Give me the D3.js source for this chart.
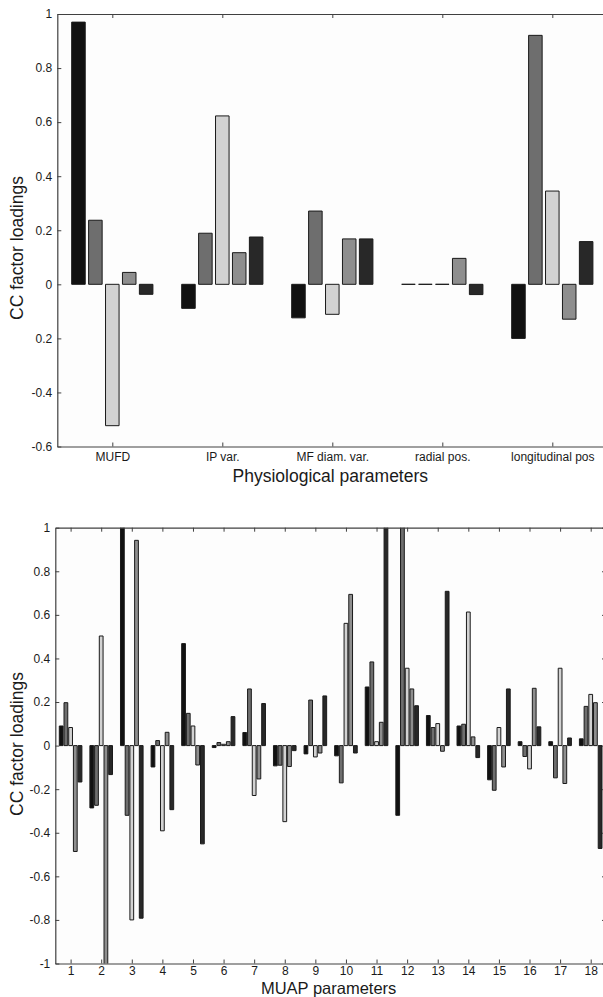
<!DOCTYPE html>
<html>
<head>
<meta charset="utf-8">
<script src="https://cdn.jsdelivr.net/npm/d3@7"></script>
<style>
  html, body { margin: 0; padding: 0; background: #ffffff; }
  svg { display: block; }
  text { font-family: "Liberation Sans", Arial, sans-serif; fill: #1a1a1a; }
</style>
</head>
<body>
<svg id="chart" width="603" height="997"></svg>
<script>
// ---------- Top panel data ----------
const topCategories = ["MUFD", "IP var.", "MF diam. var.", "radial pos.", "longitudinal pos"];
const topS1 = [0.97, -0.089, -0.124, 0, -0.20];
const topS2 = [0.237, 0.189, 0.271, 0, 0.921];
const topS3 = [-0.523, 0.623, -0.111, 0, 0.345];
const topS4 = [0.044, 0.117, 0.168, 0.096, -0.129];
const topS5 = [-0.037, 0.175, 0.168, -0.038, 0.158];
const topYTicks = [-0.6, -0.4, -0.2, 0, 0.2, 0.4, 0.6, 0.8, 1];
const topYTickLabels = ["-0.6", "-0.4", "0.2", "0", "0.2", "0.4", "0.6", "0.8", "1"];

// ---------- Bottom panel data ----------
const bottomCategories = ["1","2","3","4","5","6","7","8","9","10","11","12","13","14","15","16","17","18"];
const botS1 = [0.09, -0.286, 1.02, -0.098, 0.468, -0.009, 0.06, -0.093, -0.038, -0.047, 0.269, -0.32, 0.138, 0.09, -0.157, 0.018, 0.018, 0.031];
const botS2 = [0.197, -0.274, -0.32, 0.023, 0.148, 0.014, 0.26, -0.09, 0.209, -0.171, 0.384, 1.02, 0.083, 0.098, -0.205, -0.05, -0.148, 0.18];
const botS3 = [0.083, 0.503, -0.80, -0.391, 0.09, 0.006, -0.229, -0.349, -0.052, 0.561, 0.018, 0.355, 0.101, 0.613, 0.083, -0.107, 0.355, 0.235];
const botS4 = [-0.486, -1.02, 0.942, 0.061, -0.089, 0.018, -0.153, -0.096, -0.034, 0.694, 0.107, 0.26, -0.026, 0.04, -0.098, 0.263, -0.174, 0.197];
const botS5 = [-0.167, -0.133, -0.792, -0.294, -0.451, 0.133, 0.193, -0.023, 0.228, -0.034, 1.02, 0.183, 0.708, -0.055, 0.26, 0.086, 0.035, -0.472];
const bottomYTicks = [-1, -0.8, -0.6, -0.4, -0.2, 0, 0.2, 0.4, 0.6, 0.8, 1];
const bottomYTickLabels = ["-1", "-0.8", "-0.6", "-0.4", "-0.2", "0", "0.2", "0.4", "0.6", "0.8", "1"];

const seriesColors = ["#111111", "#6e6e6e", "#d2d2d2", "#8e8e8e", "#282828"];

const svg = d3.select("#chart");

function drawPanel(cfg) {
  const { id, cats, series, yDomain, yTicks, yTickLabels, left, right, top, bottom,
          xLabel, xLabelY, xLabelSize, yLabelY, tickPad } = cfg;
  const n = series.length;
  const x = d3.scaleLinear().domain([0.5, cats.length + 0.5]).range([left, right]);
  const y = d3.scaleLinear().domain(yDomain).range([bottom, top]);
  const g = svg.append("g");

  g.append("clipPath").attr("id", "clip" + id)
    .append("rect").attr("x", left).attr("y", top)
    .attr("width", right - left).attr("height", bottom - top);

  g.append("rect").attr("x", left).attr("y", top)
    .attr("width", right - left).attr("height", bottom - top)
    .attr("fill", "#fdfdfd");

  const groupW = Math.min(0.8, n / (n + 1.5));
  const slot = groupW / n;
  const bw = slot * 0.8;

  const bars = [];
  series.forEach((vals, si) => {
    vals.forEach((v, ci) => {
      const xc = (ci + 1) + (si - (n - 1) / 2) * slot;
      bars.push({ x0: xc - bw / 2, x1: xc + bw / 2, v: v, si: si });
    });
  });

  g.append("g").attr("clip-path", "url(#clip" + id + ")")
    .selectAll("path").data(bars).join("path")
    .attr("d", d => {
      const xa = x(d.x0), xb = x(d.x1), y0 = y(0), y1 = y(d.v);
      return `M${xa},${y0}L${xa},${y1}L${xb},${y1}L${xb},${y0}Z`;
    })
    .attr("fill", d => seriesColors[d.si])
    .attr("stroke", "#1a1a1a")
    .attr("stroke-width", 1);

  const axisColor = "#404040";
  const ticksX = cats.map((c, i) => i + 1);

  const axB = d3.axisBottom(x).tickValues(ticksX).tickFormat((d, i) => cats[i])
    .tickSizeInner(-4).tickSizeOuter(0).tickPadding(tickPad.x);
  const axT = d3.axisTop(x).tickValues(ticksX).tickFormat("")
    .tickSizeInner(-4).tickSizeOuter(0);
  const axL = d3.axisLeft(y).tickValues(yTicks).tickFormat((d, i) => yTickLabels[i])
    .tickSizeInner(-4).tickSizeOuter(0).tickPadding(tickPad.y);
  const axR = d3.axisRight(y).tickValues(yTicks).tickFormat("")
    .tickSizeInner(-4).tickSizeOuter(0);

  const gb = g.append("g").attr("transform", `translate(0,${bottom})`).call(axB);
  const gt = g.append("g").attr("transform", `translate(0,${top})`).call(axT);
  const gl = g.append("g").attr("transform", `translate(${left},0)`).call(axL);
  const gr = g.append("g").attr("transform", `translate(${right},0)`).call(axR);
  [gb, gt, gl, gr].forEach(a => {
    a.select(".domain").attr("stroke", axisColor).attr("stroke-width", 1.2);
    a.selectAll(".tick line").attr("stroke", axisColor);
    a.selectAll("text").attr("font-size", "12px").attr("fill", "#222")
      .attr("font-family", "'Liberation Sans', Arial, sans-serif");
  });

  g.append("text")
    .attr("x", (left + right) / 2 - 2).attr("y", xLabelY)
    .attr("text-anchor", "middle").attr("font-size", xLabelSize)
    .text(xLabel);

  g.append("text")
    .attr("transform", `translate(17,${yLabelY}) rotate(-90)`)
    .attr("dy", "0.36em")
    .attr("text-anchor", "middle").attr("font-size", "17.5px")
    .text("CC factor loadings");
}

drawPanel({
  id: "top",
  cats: topCategories,
  series: [topS1, topS2, topS3, topS4, topS5],
  yDomain: [-0.6, 1],
  yTicks: topYTicks, yTickLabels: topYTickLabels,
  left: 57.3, right: 607.3, top: 14, bottom: 446.5,
  xLabel: "Physiological parameters", xLabelY: 482, xLabelSize: "17.5px", yLabelY: 248,
  tickPad: { x: 6, y: 5 }
});

drawPanel({
  id: "bot",
  cats: bottomCategories,
  series: [botS1, botS2, botS3, botS4, botS5],
  yDomain: [-1, 1],
  yTicks: bottomYTicks, yTickLabels: bottomYTickLabels,
  left: 55.3, right: 606, top: 527.7, bottom: 963.5,
  xLabel: "MUAP parameters", xLabelY: 994, xLabelSize: "16.5px", yLabelY: 744,
  tickPad: { x: 3, y: 5 }
});
</script>
</body>
</html>
